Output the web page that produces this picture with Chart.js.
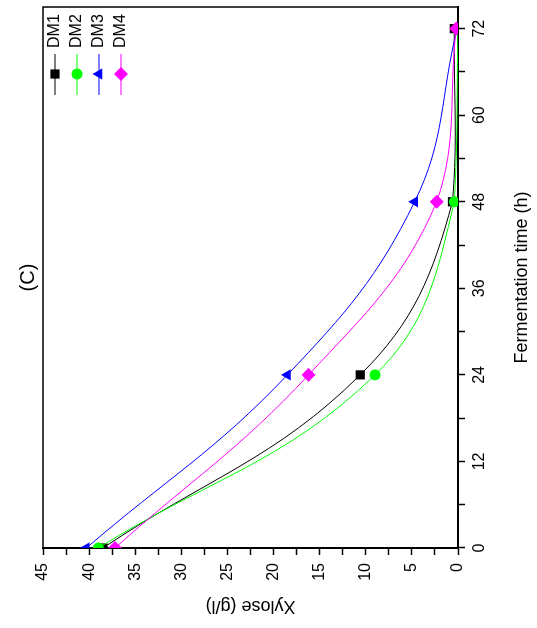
<!DOCTYPE html>
<html>
<head>
<meta charset="utf-8">
<script src="https://cdn.jsdelivr.net/npm/chart.js@4.4.1/dist/chart.umd.min.js"></script>
<style>
  html, body { margin: 0; padding: 0; background: #fff; overflow: hidden; }
  /* the figure is printed on its side, so draw it upright and turn it */
  #wrap { position: absolute; left: 0; top: 0; width: 628px; height: 537px;
          transform-origin: 0 0; transform: translate(0, 628px) rotate(-90deg); }
</style>
</head>
<body>
<div id="wrap"><canvas id="chart" width="628" height="537"></canvas></div>
<script>
// sampling times (h)
var hours = [0, 24, 48, 72];

// xylose (g/l) for each strain
var dm1 = [38.5, 10.6, 0.6, 0.4];
var dm2 = [39.0, 9.0, 0.4, 0.0];
var dm3 = [40.3, 18.5, 4.7, 0.1];
var dm4 = [37.2, 16.2, 2.3, 0.2];

var seriesNames = ["DM1", "DM2", "DM3", "DM4"];

var timeTicks = [0, 12, 24, 36, 48, 60, 72];
var xyloseTicks = [0, 5, 10, 15, 20, 25, 30, 35, 40, 45];

var FONT = '"Liberation Sans", Arial, sans-serif';

function points(values) {
  return hours.map(function (h, i) { return { x: h, y: values[i] }; });
}

// order: later series are drawn on top, as in the original
function makeDataset(label, values, color, marker, radius, order) {
  return {
    label: label,
    data: points(values),
    order: order,
    borderColor: color,
    backgroundColor: color,
    borderWidth: 1,
    tension: 0.4,
    pointStyle: marker,
    pointRadius: radius,
    pointHoverRadius: radius,
    pointBorderWidth: 0,
    pointBackgroundColor: color,
    fill: false
  };
}

function drawMarker(ctx, style, r, x, y) {
  ctx.beginPath();
  if (style === "rect") {
    var s = r * Math.SQRT1_2;
    ctx.rect(x - s, y - s, 2 * s, 2 * s);
  } else if (style === "circle") {
    ctx.arc(x, y, r, 0, Math.PI * 2);
  } else if (style === "triangle") {
    ctx.moveTo(x, y - r);
    ctx.lineTo(x + 0.866 * r, y + 0.5 * r);
    ctx.lineTo(x - 0.866 * r, y + 0.5 * r);
    ctx.closePath();
  } else {
    ctx.moveTo(x, y - r);
    ctx.lineTo(x + r, y);
    ctx.lineTo(x, y + r);
    ctx.lineTo(x - r, y);
    ctx.closePath();
  }
  ctx.fill();
}

// top and right edges of the frame
var framePlugin = {
  id: "frame",
  afterDraw: function (chart) {
    var a = chart.chartArea, ctx = chart.ctx;
    ctx.save();
    ctx.strokeStyle = "#000";
    ctx.lineWidth = 1.5;
    ctx.beginPath();
    ctx.moveTo(a.left, a.top);
    ctx.lineTo(a.right, a.top);
    ctx.lineTo(a.right, a.bottom);
    ctx.stroke();
    ctx.restore();
  }
};

// legend in the corner: line with the symbol on it, then the name
var cornerLegend = {
  id: "cornerLegend",
  afterDraw: function (chart) {
    var a = chart.chartArea, ctx = chart.ctx;
    ctx.save();
    chart.data.datasets.forEach(function (ds, i) {
      var y = a.top + 12 + 22 * i;
      var x0 = a.right - 88;
      ctx.strokeStyle = ds.borderColor;
      ctx.lineWidth = 1.2;
      ctx.beginPath();
      ctx.moveTo(x0, y);
      ctx.lineTo(x0 + 41, y);
      ctx.stroke();
      ctx.fillStyle = ds.pointBackgroundColor;
      drawMarker(ctx, ds.pointStyle, ds.pointRadius, x0 + 21, y);
      ctx.fillStyle = "#000";
      ctx.font = "16px " + FONT;
      ctx.textBaseline = "middle";
      ctx.textAlign = "left";
      ctx.fillText(ds.label, x0 + 47, y);
    });
    ctx.restore();
  }
};

function onList(list) {
  return function (v) {
    for (var i = 0; i < list.length; i++) {
      if (Math.abs(list[i] - v) < 1e-6) return String(list[i]);
    }
    return "";
  };
}

var chart = new Chart(document.getElementById("chart").getContext("2d"), {
  type: "line",
  data: {
    datasets: [
      makeDataset(seriesNames[0], dm1, "#000000", "rect", 6.5, 4),
      makeDataset(seriesNames[1], dm2, "#00ff00", "circle", 5.5, 3),
      makeDataset(seriesNames[2], dm3, "#0000ff", "triangle", 6.5, 2),
      makeDataset(seriesNames[3], dm4, "#ff00ff", "rectRot", 7, 1)
    ]
  },
  options: {
    responsive: false,
    animation: false,
    events: [],
    layout: { padding: { left: 0, right: 6, top: 0, bottom: 0 } },
    plugins: {
      legend: { display: false },
      tooltip: { enabled: false },
      title: {
        display: true,
        text: "(C)",
        fullSize: false,
        color: "#000",
        font: { family: FONT, size: 20, weight: "normal" },
        padding: { top: 16, bottom: 3 }
      }
    },
    scales: {
      x: {
        type: "linear",
        position: "bottom",
        min: 0,
        max: 75,
        afterFit: function (s) { s.height = 79; },
        ticks: {
          stepSize: 6,
          includeBounds: false,
          autoSkip: false,
          maxRotation: 0,
          color: "#000",
          padding: 5,
          font: { family: FONT, size: 16 },
          callback: onList(timeTicks)
        },
        grid: { drawOnChartArea: false, drawTicks: true, tickLength: 7, tickColor: "#000", tickWidth: 1.5 },
        border: { color: "#000", width: 2 },
        title: {
          display: true,
          text: "Fermentation time (h)",
          color: "#000",
          font: { family: FONT, size: 18 },
          padding: { top: 0, bottom: 4 }
        }
      },
      y: {
        type: "linear",
        position: "left",
        min: 0,
        max: 45,
        afterFit: function (s) { s.width = 80; },
        ticks: {
          stepSize: 2.5,
          includeBounds: false,
          autoSkip: false,
          color: "#000",
          padding: 8,
          font: { family: FONT, size: 16 },
          callback: onList(xyloseTicks)
        },
        grid: { drawOnChartArea: false, drawTicks: true, tickLength: 7, tickColor: "#000", tickWidth: 1.5 },
        border: { color: "#000", width: 2 },
        title: {
          display: true,
          text: "Xylose (g/l)",
          color: "#000",
          font: { family: FONT, size: 18 },
          padding: { top: 11, bottom: 0 }
        }
      }
    }
  },
  plugins: [framePlugin, cornerLegend]
});
</script>
</body>
</html>
